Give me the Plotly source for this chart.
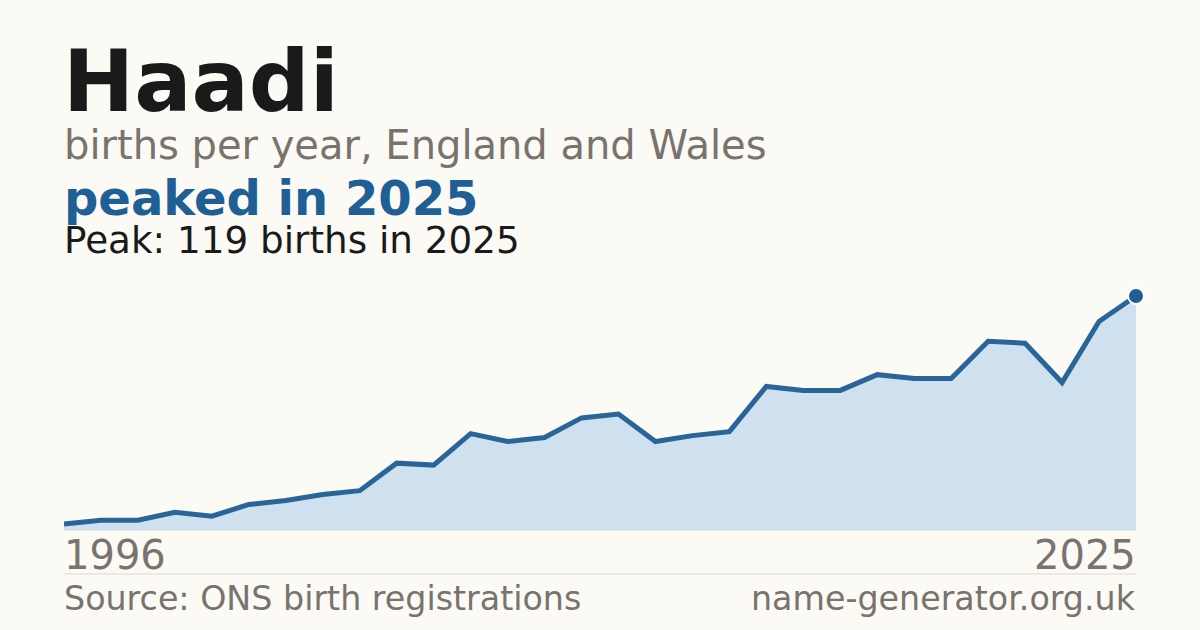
import plotly.graph_objects as go

# births per year for the name
years = list(range(1996, 2026))
births = [3, 5, 5, 9, 7, 13, 15, 18, 20, 34, 33, 49, 45, 47, 57,
          59, 45, 48, 50, 73, 71, 71, 79, 77, 77, 96, 95, 75, 106, 119]

name = "Haadi"
subtitle = "births per year, England and Wales"
headline = "peaked in 2025"
peak_text = "Peak: 119 births in 2025"
source = "Source: ONS birth registrations"
site = "name-generator.org.uk"

W, H = 1200, 630
BG = "#fbfaf5"
INK = "#1a1a1a"
GREY = "#78736c"
BLUE = "#1f5f96"
FONT = "DejaVu Sans"

# plot box in pixels
x0, x1 = 64, 1136
y_base, y_peak = 530, 296
ymax = 125
px_per = (y_base - y_peak) / max(births)
y_top = y_base - ymax * px_per


def py(y):
    return 1 - y / H


def px(x):
    return x / W


fig = go.Figure()
fig.add_trace(go.Scatter(
    x=years, y=births, mode="lines", fill="tozeroy",
    fillcolor="#cfe0ef", line=dict(color="#2a6599", width=5),
    hoverinfo="skip", cliponaxis=False,
))
fig.add_trace(go.Scatter(
    x=[years[-1]], y=[births[-1]], mode="markers",
    marker=dict(size=16, color=BLUE, line=dict(color="white", width=2)),
    hoverinfo="skip", cliponaxis=False,
))

fig.update_layout(
    width=W, height=H, paper_bgcolor=BG, plot_bgcolor=BG,
    margin=dict(l=0, r=0, t=0, b=0), showlegend=False,
    font=dict(family=FONT),
    xaxis=dict(domain=[px(x0), px(x1)], range=[years[0], years[-1]],
               visible=False, fixedrange=True),
    yaxis=dict(domain=[py(y_base), py(y_top)], range=[0, ymax],
               visible=False, fixedrange=True),
)

# baseline and footer rule
for yy in (y_base, 574):
    fig.add_shape(type="line", xref="paper", yref="paper",
                  x0=px(x0), x1=px(x1), y0=py(yy), y1=py(yy),
                  line=dict(color="#dcd9d2", width=1), layer="below")


def label(text, x, y, size, color, bold=False, anchor="left"):
    fig.add_annotation(
        text=f"<b>{text}</b>" if bold else text,
        xref="paper", yref="paper", x=px(x), y=py(y),
        xanchor=anchor, yanchor="top", showarrow=False, borderpad=0,
        font=dict(family=FONT, size=size, color=color),
    )


label(name, 62, 31, 85, INK, bold=True)
label(subtitle, 63, 121, 40, GREY)
label(headline, 63, 169, 48, BLUE, bold=True)
label(peak_text, 63, 217, 37.3, INK)
label(str(years[0]), 63, 531, 40, GREY)
label(str(years[-1]), 1137, 531, 40, GREY, anchor="right")
label(source, 63, 578, 33.3, GREY)
label(site, 1137, 578, 33.3, GREY, anchor="right")

fig.write_html("out.html", config={"displayModeBar": False},
               post_script="document.body.style.margin='0';")
